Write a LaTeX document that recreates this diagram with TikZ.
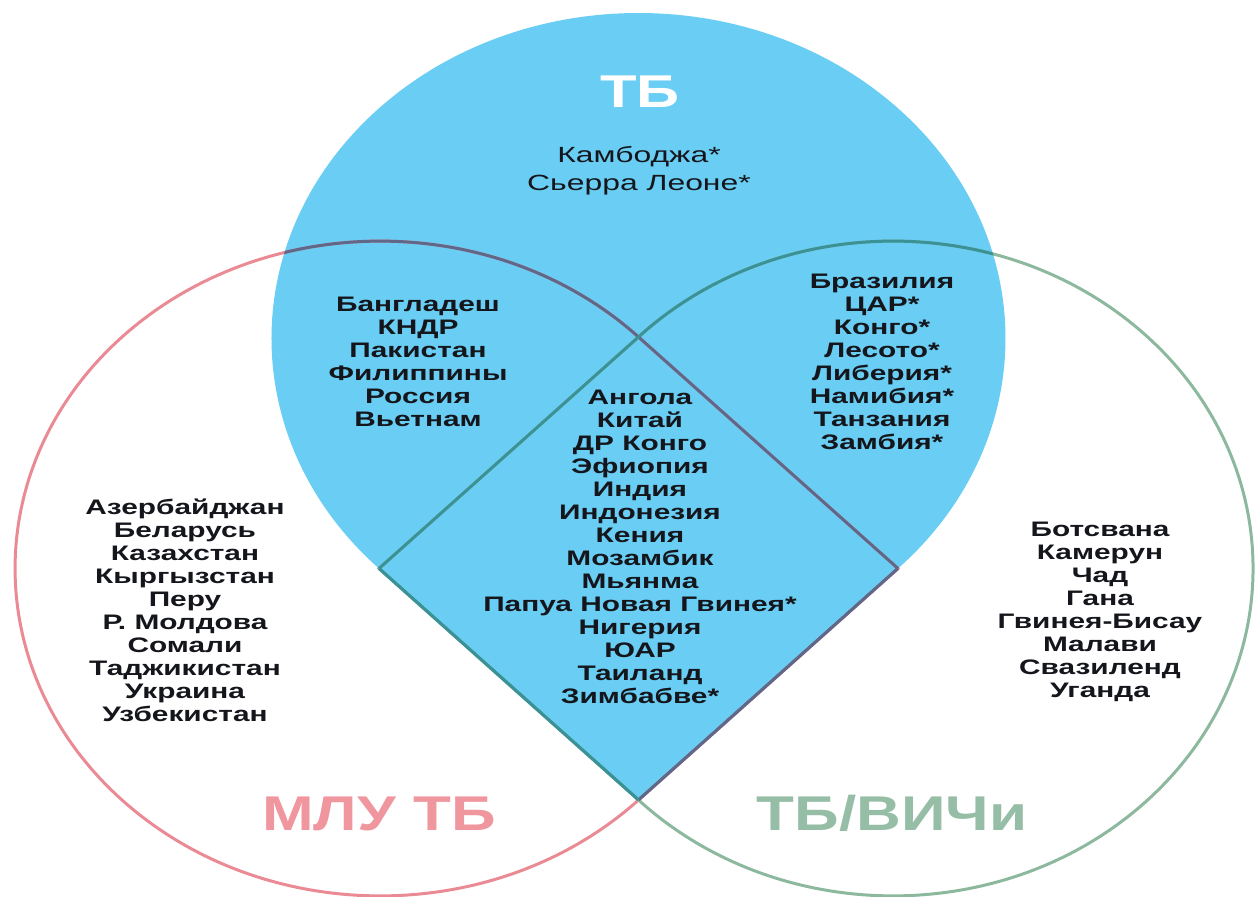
\documentclass[tikz,border=0pt]{standalone}
\usepackage{fontspec}
\setmainfont{Liberation Sans}
\usepackage{graphicx}
\definecolor{tbblue}{RGB}{106,205,243}
\definecolor{pinkline}{RGB}{234,138,148}
\definecolor{greenline}{RGB}{140,184,158}
\definecolor{pinkdark}{RGB}{96,104,138}
\definecolor{greendark}{RGB}{58,146,150}
\definecolor{pinktext}{RGB}{240,150,158}
\definecolor{greentext}{RGB}{150,190,166}
\definecolor{txt}{RGB}{20,22,28}
\newcommand\clist[2][1.42]{\scalebox{#1}[1]{\begin{tabular}{@{}c@{}}#2\end{tabular}}}
\begin{document}
\begin{tikzpicture}[x=0.5pt,y=0.5pt,
  lst/.style={inner sep=0pt, text=txt, font=\bfseries\fontsize{10.5}{11.5}\selectfont},
  biglbl/.style={inner sep=0pt, anchor=base, font=\bfseries\fontsize{24.4}{26}\selectfont},
  edge/.style={line width=1.5pt}]
\useasboundingbox (0,0) rectangle (1255,896);
\coordinate (T) at (638.5,559);
\coordinate (B) at (638.5,96);
\coordinate (L) at (379,327.5);
\coordinate (R) at (898,327.5);
% TB shape
\fill[tbblue] (B) -- (R) arc[start angle=-45,end angle=225,x radius=367,y radius=325.4] -- cycle;
% MDR-TB outline
\draw[edge, pinkline] (R) -- (T) arc[start angle=45,end angle=315,x radius=365.2,y radius=327.4] -- cycle;
% TB/HIV outline
\draw[edge, greenline] (L) -- (B) arc[start angle=-135,end angle=135,x radius=360,y radius=327.4] -- cycle;
% darker parts over the blue
\begin{scope}
\clip (B) -- (R) arc[start angle=-45,end angle=225,x radius=367,y radius=325.4] -- cycle;
\draw[edge, pinkdark] (R) -- (T) arc[start angle=45,end angle=315,x radius=365.2,y radius=327.4] -- cycle;
\draw[edge, greendark] (L) -- (B) arc[start angle=-135,end angle=135,x radius=360,y radius=327.4] -- cycle;
\end{scope}
\draw[edge, pinkdark] (B) -- (R);
\draw[edge, greendark] (L) -- (B);
% titles
\node[biglbl, text=white, font=\bfseries\fontsize{23}{24}\selectfont] (ttl) at (640,788) {\scalebox{1.3}[1]{ТБ}};
\node[biglbl, text=pinktext] (mlu) at (379,66) {\scalebox{1.27}[1]{МЛУ ТБ}};
\node[biglbl, text=greentext] (hiv) at (892,66) {\scalebox{1.27}[1]{ТБ/ВИЧи}};
% lists
\node[lst, font=\mdseries\fontsize{11}{14}\selectfont] (tbonly) at (639,725) {\clist[1.45]{Камбоджа*\\Сьерра Леоне*}};
\node[lst] (tbmlu) at (418,531.5) {\clist{Бангладеш\\КНДР\\Пакистан\\Филиппины\\Россия\\Вьетнам}};
\node[lst] (tbhiv) at (882,531.5) {\clist{Бразилия\\ЦАР*\\Конго*\\Лесото*\\Либерия*\\Намибия*\\Танзания\\Замбия*}};
\node[lst] (all) at (640,347) {\clist{Ангола\\Китай\\ДР Конго\\Эфиопия\\Индия\\Индонезия\\Кения\\Мозамбик\\Мьянма\\Папуа Новая Гвинея*\\Нигерия\\ЮАР\\Таиланд\\Зимбабве*}};
\node[lst] (mluonly) at (185,282.5) {\clist{Азербайджан\\Беларусь\\Казахстан\\Кыргызстан\\Перу\\Р. Молдова\\Сомали\\Таджикистан\\Украина\\Узбекистан}};
\node[lst] (hivonly) at (1100,283.5) {\clist{Ботсвана\\Камерун\\Чад\\Гана\\Гвинея-Бисау\\Малави\\Свазиленд\\Уганда}};
\end{tikzpicture}
\end{document}
